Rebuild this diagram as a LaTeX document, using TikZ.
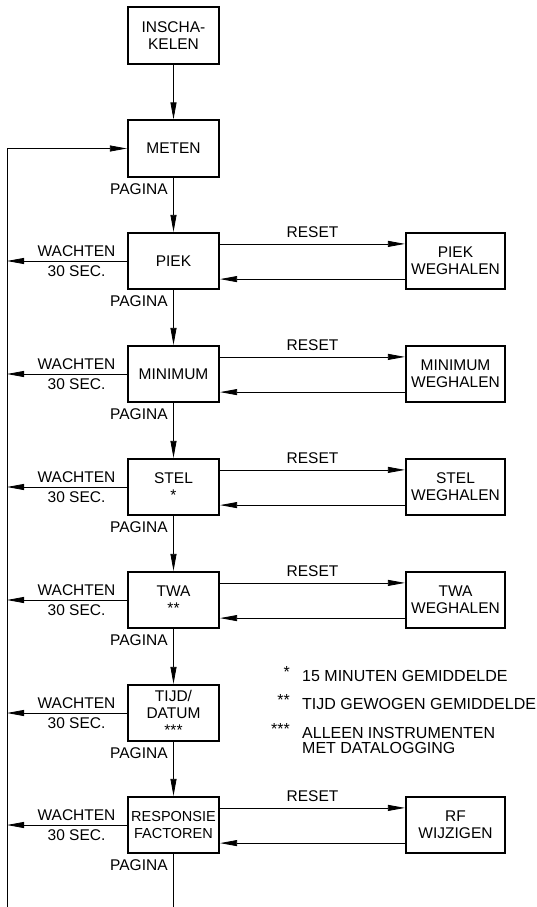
\documentclass[tikz,border=0pt]{standalone}
\usepackage{fontspec}
\setmainfont{Liberation Sans}
\usetikzlibrary{arrows.meta}

\tikzset{
  box/.style={draw, line width=1.7pt, minimum width=91.5pt, minimum height=56.5pt, align=center, inner sep=0pt},
  sidebox/.style={box, minimum width=99.5pt},
  lbl/.style={inner sep=0pt},
  flow/.style={line width=0.8pt, ->},
  notefont/.style={font=\fontsize{16}{14.5}\selectfont}
}

\begin{document}
\begin{tikzpicture}[x=1pt, y=-1pt, >={Triangle[length=17pt,width=6pt]}, font=\fontsize{15.5}{17}\selectfont]
\useasboundingbox (0,0) rectangle (536,907);

% Main column
\node[box] (inschakelen) at (173.5,35.5) {INSCHA-\\KELEN};
\node[box] (meten) at (173.5,148.5) {METEN};
\node[box] (piek) at (173.5,261) {PIEK};
\node[box] (minimum) at (173.5,374) {MINIMUM};
\node[box] (stel) at (173.5,487) {STEL\\*};
\node[box] (twa) at (173.5,600) {TWA\\**};
\node[box] (tijd) at (173.5,713) {TIJD/\\DATUM\\***};
\node[box, font=\fontsize{14.5}{16.5}\selectfont] (resp) at (173.5,825) {RESPONSIE\\FACTOREN};

% Side boxes
\node[sidebox] (piek-weg) at (455.5,261) {PIEK\\WEGHALEN};
\node[sidebox] (minimum-weg) at (455.5,374) {MINIMUM\\WEGHALEN};
\node[sidebox] (stel-weg) at (455.5,487) {STEL\\WEGHALEN};
\node[sidebox] (twa-weg) at (455.5,600) {TWA\\WEGHALEN};
\node[sidebox] (resp-weg) at (455.5,825) {RF\\WIJZIGEN};

% Return loop
\coordinate (looptop) at (7,148.5);
\coordinate (loopbot) at (7,907);
\draw[flow] (loopbot) -- (looptop) -- (meten.west);

% Down arrows
\draw[flow] (inschakelen) -- (meten);
\foreach \a/\b in {meten/piek, piek/minimum, minimum/stel, stel/twa, twa/tijd, tijd/resp}
  \draw[flow] (\a) -- (\b) node[lbl, at start, anchor=east, xshift=-5.5pt, yshift=-11.5pt] (pagina-\a) {PAGINA};
\draw[line width=0.8pt] (resp.south) -- (resp.south |- loopbot) node[lbl, at start, anchor=east, xshift=-5.5pt, yshift=-11.5pt] (pagina-resp) {PAGINA};

% Wait arrows
\foreach \n in {piek, minimum, stel, twa, tijd, resp}
  \draw[flow] (\n.west) -- (\n.west -| looptop)
    node[lbl, pos=0.42, yshift=10pt] (wacht-\n) {WACHTEN}
    node[lbl, pos=0.42, yshift=-10pt] (sec-\n) {30 SEC.};

% Reset arrows
\foreach \n in {piek, minimum, stel, twa, resp} {
  \draw[flow] ([yshift=-12pt]\n.north east) -- ([yshift=-12pt]\n-weg.north west)
    node[lbl, midway, yshift=11.5pt] (reset-\n) {RESET};
  \draw[flow] ([yshift=11pt]\n-weg.south west) -- ([yshift=11pt]\n.south east);
}

% Notes
\node[lbl, notefont, anchor=base east] (star1) at (290,677) {*};
\node[lbl, notefont, anchor=base west] (note1) at (302,681.5) {15 MINUTEN GEMIDDELDE};
\node[lbl, notefont, anchor=base east] (star2) at (290,705) {**};
\node[lbl, notefont, anchor=base west] (note2) at (302,709) {TIJD GEWOGEN GEMIDDELDE};
\node[lbl, notefont, anchor=base east] (star3) at (290,734) {***};
\node[lbl, notefont, anchor=north west, align=left] (note3) at (302,727.5) {ALLEEN INSTRUMENTEN\\MET DATALOGGING};

\end{tikzpicture}
\end{document}
